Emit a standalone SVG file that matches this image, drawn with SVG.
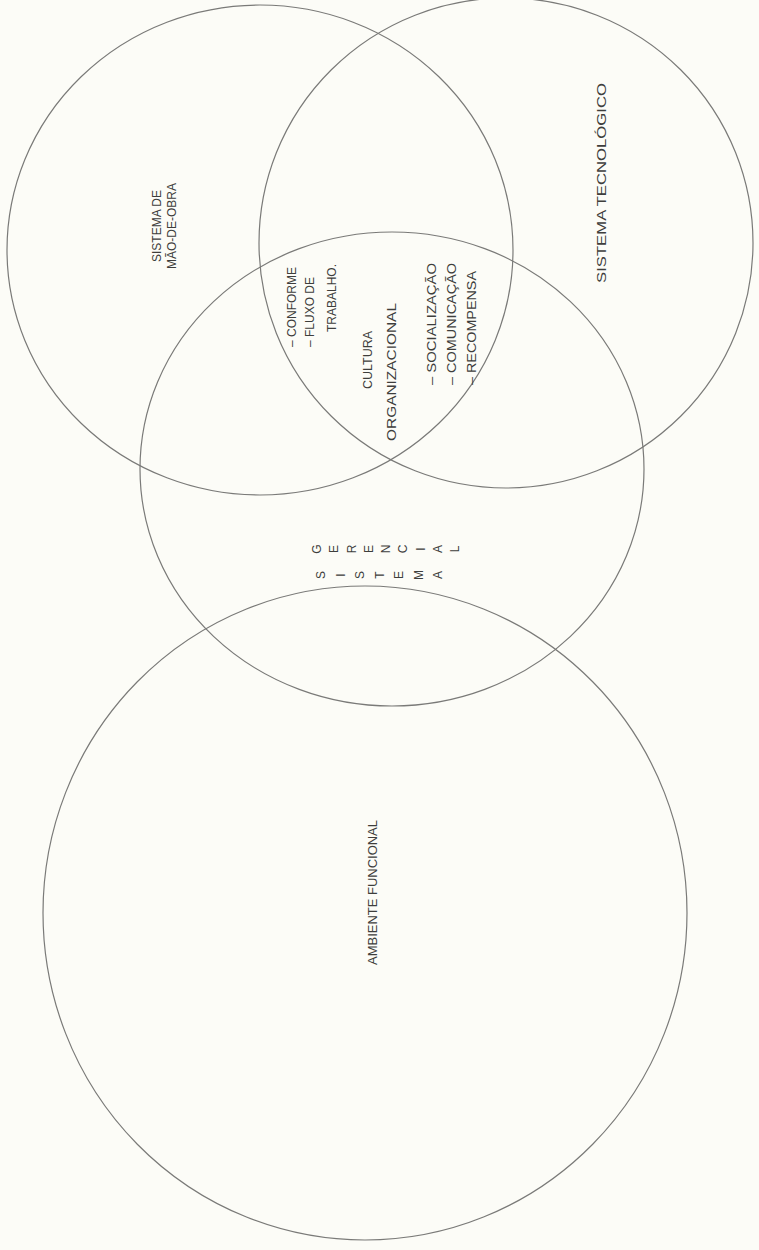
<svg xmlns="http://www.w3.org/2000/svg" width="759" height="1250" viewBox="0 0 759 1250">
<style>
.c{fill:none;stroke:#7a7a78;stroke-width:1.2}
.t{font-family:"Liberation Sans",Arial,sans-serif;font-size:12px;fill:#3e3e3c}
.g{font-family:"Liberation Sans",Arial,sans-serif;font-size:12px;fill:#3e3e3c;text-anchor:middle}
</style>
<rect width="759" height="1250" fill="#fcfcf7"/>
<g id="sistema-mao-de-obra">
<ellipse class="c" cx="260" cy="250" rx="253" ry="245"/>
<text class="t" text-anchor="middle" transform="translate(161,226) rotate(-90)">SISTEMA DE</text>
<text class="t" text-anchor="middle" transform="translate(176,226) rotate(-90)">MÃO-DE-OBRA</text>
</g>
<g id="sistema-tecnologico">
<ellipse class="c" cx="506" cy="243" rx="247" ry="245"/>
<text class="t" textLength="200" lengthAdjust="spacingAndGlyphs" transform="translate(606,283) rotate(-90)">SISTEMA TECNOLÓGICO</text>
</g>
<g id="sistema-gerencial">
<ellipse class="c" cx="392" cy="469" rx="252" ry="237"/>
<text class="g" transform="translate(321,549) rotate(-90)">G</text>
<text class="g" transform="translate(338.25,549) rotate(-90)">E</text>
<text class="g" transform="translate(355.5,549) rotate(-90)">R</text>
<text class="g" transform="translate(372.75,549) rotate(-90)">E</text>
<text class="g" transform="translate(390,549) rotate(-90)">N</text>
<text class="g" transform="translate(407.25,549) rotate(-90)">C</text>
<text class="g" transform="translate(424.5,549) rotate(-90)">I</text>
<text class="g" transform="translate(441.75,549) rotate(-90)">A</text>
<text class="g" transform="translate(459,549) rotate(-90)">L</text>
<text class="g" transform="translate(325,575) rotate(-90)">S</text>
<text class="g" transform="translate(344.5,575) rotate(-90)">I</text>
<text class="g" transform="translate(364,575) rotate(-90)">S</text>
<text class="g" transform="translate(383.5,575) rotate(-90)">T</text>
<text class="g" transform="translate(403,575) rotate(-90)">E</text>
<text class="g" transform="translate(422.5,575) rotate(-90)">M</text>
<text class="g" transform="translate(442,575) rotate(-90)">A</text>
</g>
<g id="cultura-organizacional">
<text class="t" transform="translate(296,347) rotate(-90)">– CONFORME</text>
<text class="t" transform="translate(314,347) rotate(-90)">– FLUXO DE</text>
<text class="t" transform="translate(336,332) rotate(-90)">TRABALHO.</text>
<text class="t" textLength="58" lengthAdjust="spacingAndGlyphs" transform="translate(372,389) rotate(-90)">CULTURA</text>
<text class="t" textLength="138" lengthAdjust="spacingAndGlyphs" transform="translate(396,441) rotate(-90)">ORGANIZACIONAL</text>
<text class="t" textLength="122" lengthAdjust="spacingAndGlyphs" transform="translate(436,385) rotate(-90)">– SOCIALIZAÇÃO</text>
<text class="t" textLength="122" lengthAdjust="spacingAndGlyphs" transform="translate(456,385) rotate(-90)">– COMUNICAÇÃO</text>
<text class="t" textLength="114" lengthAdjust="spacingAndGlyphs" transform="translate(476,385) rotate(-90)">– RECOMPENSA</text>
</g>
<g id="ambiente-funcional">
<ellipse class="c" cx="365" cy="913" rx="322" ry="327"/>
<text class="t" textLength="145" lengthAdjust="spacingAndGlyphs" transform="translate(377,965) rotate(-90)">AMBIENTE FUNCIONAL</text>
</g>
<g id="connectors"></g>
</svg>
